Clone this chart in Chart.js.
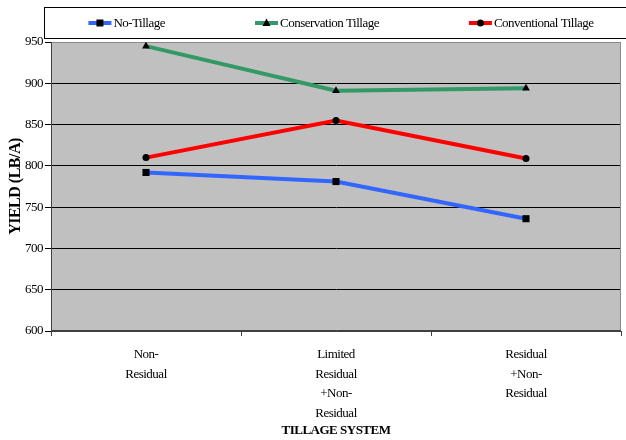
<!DOCTYPE html>
<html>
<head>
<meta charset="utf-8">
<script src="https://cdn.jsdelivr.net/npm/chart.js@4.4.1/dist/chart.umd.min.js"></script>
<style>
  html, body { margin: 0; padding: 0; background: #ffffff; }
  canvas { display: block; }
</style>
</head>
<body>
<canvas id="chart" width="626" height="440"></canvas>
<script>
// Tillage system categories (multi-line axis labels)
const categories = [
  ["Non-", "Residual"],
  ["Limited", "Residual", "+Non-", "Residual"],
  ["Residual", "+Non-", "Residual"]
];
const seriesNames = ["No-Tillage", "Conservation Tillage", "Conventional Tillage"];

// Yield, lb/A
const noTillage = [792, 781, 736];
const conservationTillage = [945, 891, 894];
const conventionalTillage = [810, 855, 809];

const yMin = 600;
const yMax = 950;
const yStep = 50;

const FONT = "'Liberation Serif', 'Times New Roman', serif";
const LETTER_SPACING = '-0.5px';

// Condensed text look
const tightText = {
  id: 'tightText',
  beforeUpdate(chart) { chart.ctx.letterSpacing = LETTER_SPACING; },
  beforeLayout(chart) { chart.ctx.letterSpacing = LETTER_SPACING; },
  beforeDraw(chart) { chart.ctx.letterSpacing = LETTER_SPACING; }
};

// Grey plot area background and frame
const plotBackground = {
  id: 'plotBackground',
  beforeDraw(chart) {
    const { ctx, chartArea: a } = chart;
    ctx.save();
    ctx.fillStyle = '#c0c0c0';
    ctx.fillRect(a.left, a.top, a.right - a.left, a.bottom - a.top);
    ctx.restore();
  },
  beforeDatasetsDraw(chart) {
    const { ctx, chartArea: a } = chart;
    ctx.save();
    ctx.lineWidth = 1;
    ctx.strokeStyle = '#8a8a8a';
    ctx.beginPath();
    ctx.moveTo(a.left, a.top + 0.5);
    ctx.lineTo(a.right - 0.5, a.top + 0.5);
    ctx.lineTo(a.right - 0.5, a.bottom);
    ctx.stroke();
    ctx.strokeStyle = '#404040';
    ctx.beginPath();
    ctx.moveTo(a.left + 0.5, a.top);
    ctx.lineTo(a.left + 0.5, a.bottom - 0.5);
    ctx.lineTo(a.right, a.bottom - 0.5);
    ctx.stroke();
    ctx.restore();
  }
};

function drawMarker(ctx, style, x, y) {
  ctx.fillStyle = '#000000';
  ctx.beginPath();
  if (style === 'rect') {
    ctx.rect(x - 3.5, y - 3.5, 7, 7);
  } else if (style === 'triangle') {
    ctx.moveTo(x, y - 4.5);
    ctx.lineTo(x + 4, y + 3);
    ctx.lineTo(x - 4, y + 3);
    ctx.closePath();
  } else {
    ctx.arc(x, y, 3.5, 0, Math.PI * 2);
  }
  ctx.fill();
}

// Boxed legend row above the plot
const boxedLegend = {
  id: 'boxedLegend',
  afterDraw(chart) {
    const ctx = chart.ctx;
    const box = { left: 44.5, top: 7.5, right: 640, bottom: 38.5 };
    const centerX = 341;
    const iconW = 23, iconGap = 2, itemGap = 90;
    ctx.save();
    ctx.letterSpacing = LETTER_SPACING;
    ctx.fillStyle = '#ffffff';
    ctx.fillRect(box.left, box.top, box.right - box.left, box.bottom - box.top);
    ctx.strokeStyle = '#000000';
    ctx.lineWidth = 1;
    ctx.strokeRect(box.left, box.top, box.right - box.left, box.bottom - box.top);

    ctx.font = '13px ' + FONT;
    const items = chart.data.datasets.map(ds => ({
      text: ds.label, color: ds.borderColor, style: ds.pointStyle,
      w: iconW + iconGap + ctx.measureText(ds.label).width
    }));
    const total = items.reduce((s, it) => s + it.w, 0) + itemGap * (items.length - 1);
    let x = centerX - total / 2;
    const y = (box.top + box.bottom) / 2;
    items.forEach(it => {
      ctx.strokeStyle = it.color;
      ctx.lineWidth = 4;
      ctx.beginPath();
      ctx.moveTo(x, y);
      ctx.lineTo(x + iconW, y);
      ctx.stroke();
      drawMarker(ctx, it.style, x + iconW / 2, y);
      ctx.fillStyle = '#000000';
      ctx.textBaseline = 'middle';
      ctx.textAlign = 'left';
      ctx.fillText(it.text, x + iconW + iconGap, y + 1);
      x += it.w + itemGap;
    });
    ctx.restore();
  }
};

const markerStyle = { pointBackgroundColor: '#000000', pointBorderColor: '#000000', pointBorderWidth: 0 };

new Chart(document.getElementById('chart'), {
  type: 'line',
  data: {
    labels: categories,
    datasets: [
      { label: seriesNames[0], data: noTillage, borderColor: '#3366ff', borderWidth: 4,
        pointStyle: 'rect', pointRadius: 5, ...markerStyle },
      { label: seriesNames[1], data: conservationTillage, borderColor: '#339966', borderWidth: 4,
        pointStyle: 'triangle', pointRadius: 4.5, ...markerStyle },
      { label: seriesNames[2], data: conventionalTillage, borderColor: '#ff0000', borderWidth: 4,
        pointStyle: 'circle', pointRadius: 3.5, ...markerStyle }
    ]
  },
  options: {
    responsive: false,
    animation: false,
    devicePixelRatio: 1,
    layout: { padding: { top: 42, right: 4, bottom: 0, left: 0 } },
    elements: { line: { tension: 0 } },
    plugins: {
      legend: { display: false },
      tooltip: { enabled: false }
    },
    scales: {
      x: {
        offset: true,
        grid: { offset: true, drawOnChartArea: false, color: '#404040', tickLength: 5 },
        border: { color: '#404040' },
        ticks: { color: '#000000', font: { family: FONT, size: 13, lineHeight: 1.5 }, padding: 9,
                 maxRotation: 0, autoSkip: false },
        title: { display: true, text: 'TILLAGE SYSTEM', color: '#000000',
                 font: { family: FONT, size: 13, weight: 'bold' }, padding: { top: 0, bottom: 2 } },
        afterFit(scale) { scale.height = 109; }
      },
      y: {
        min: yMin, max: yMax,
        grid: {
          color: ctx => (ctx.tick && ctx.tick.value === yMax) ? '#8a8a8a' : '#000000',
          tickColor: '#000000', tickLength: 6
        },
        border: { color: '#404040' },
        ticks: { stepSize: yStep, color: '#000000', font: { family: FONT, size: 13 }, padding: 2 },
        title: { display: true, text: 'YIELD (LB/A)', color: '#000000',
                 font: { family: FONT, size: 16, weight: 'bold' }, padding: { top: 6, bottom: 0 } },
        afterFit(scale) { scale.width = 51; }
      }
    }
  },
  plugins: [tightText, plotBackground, boxedLegend]
});
</script>
</body>
</html>
